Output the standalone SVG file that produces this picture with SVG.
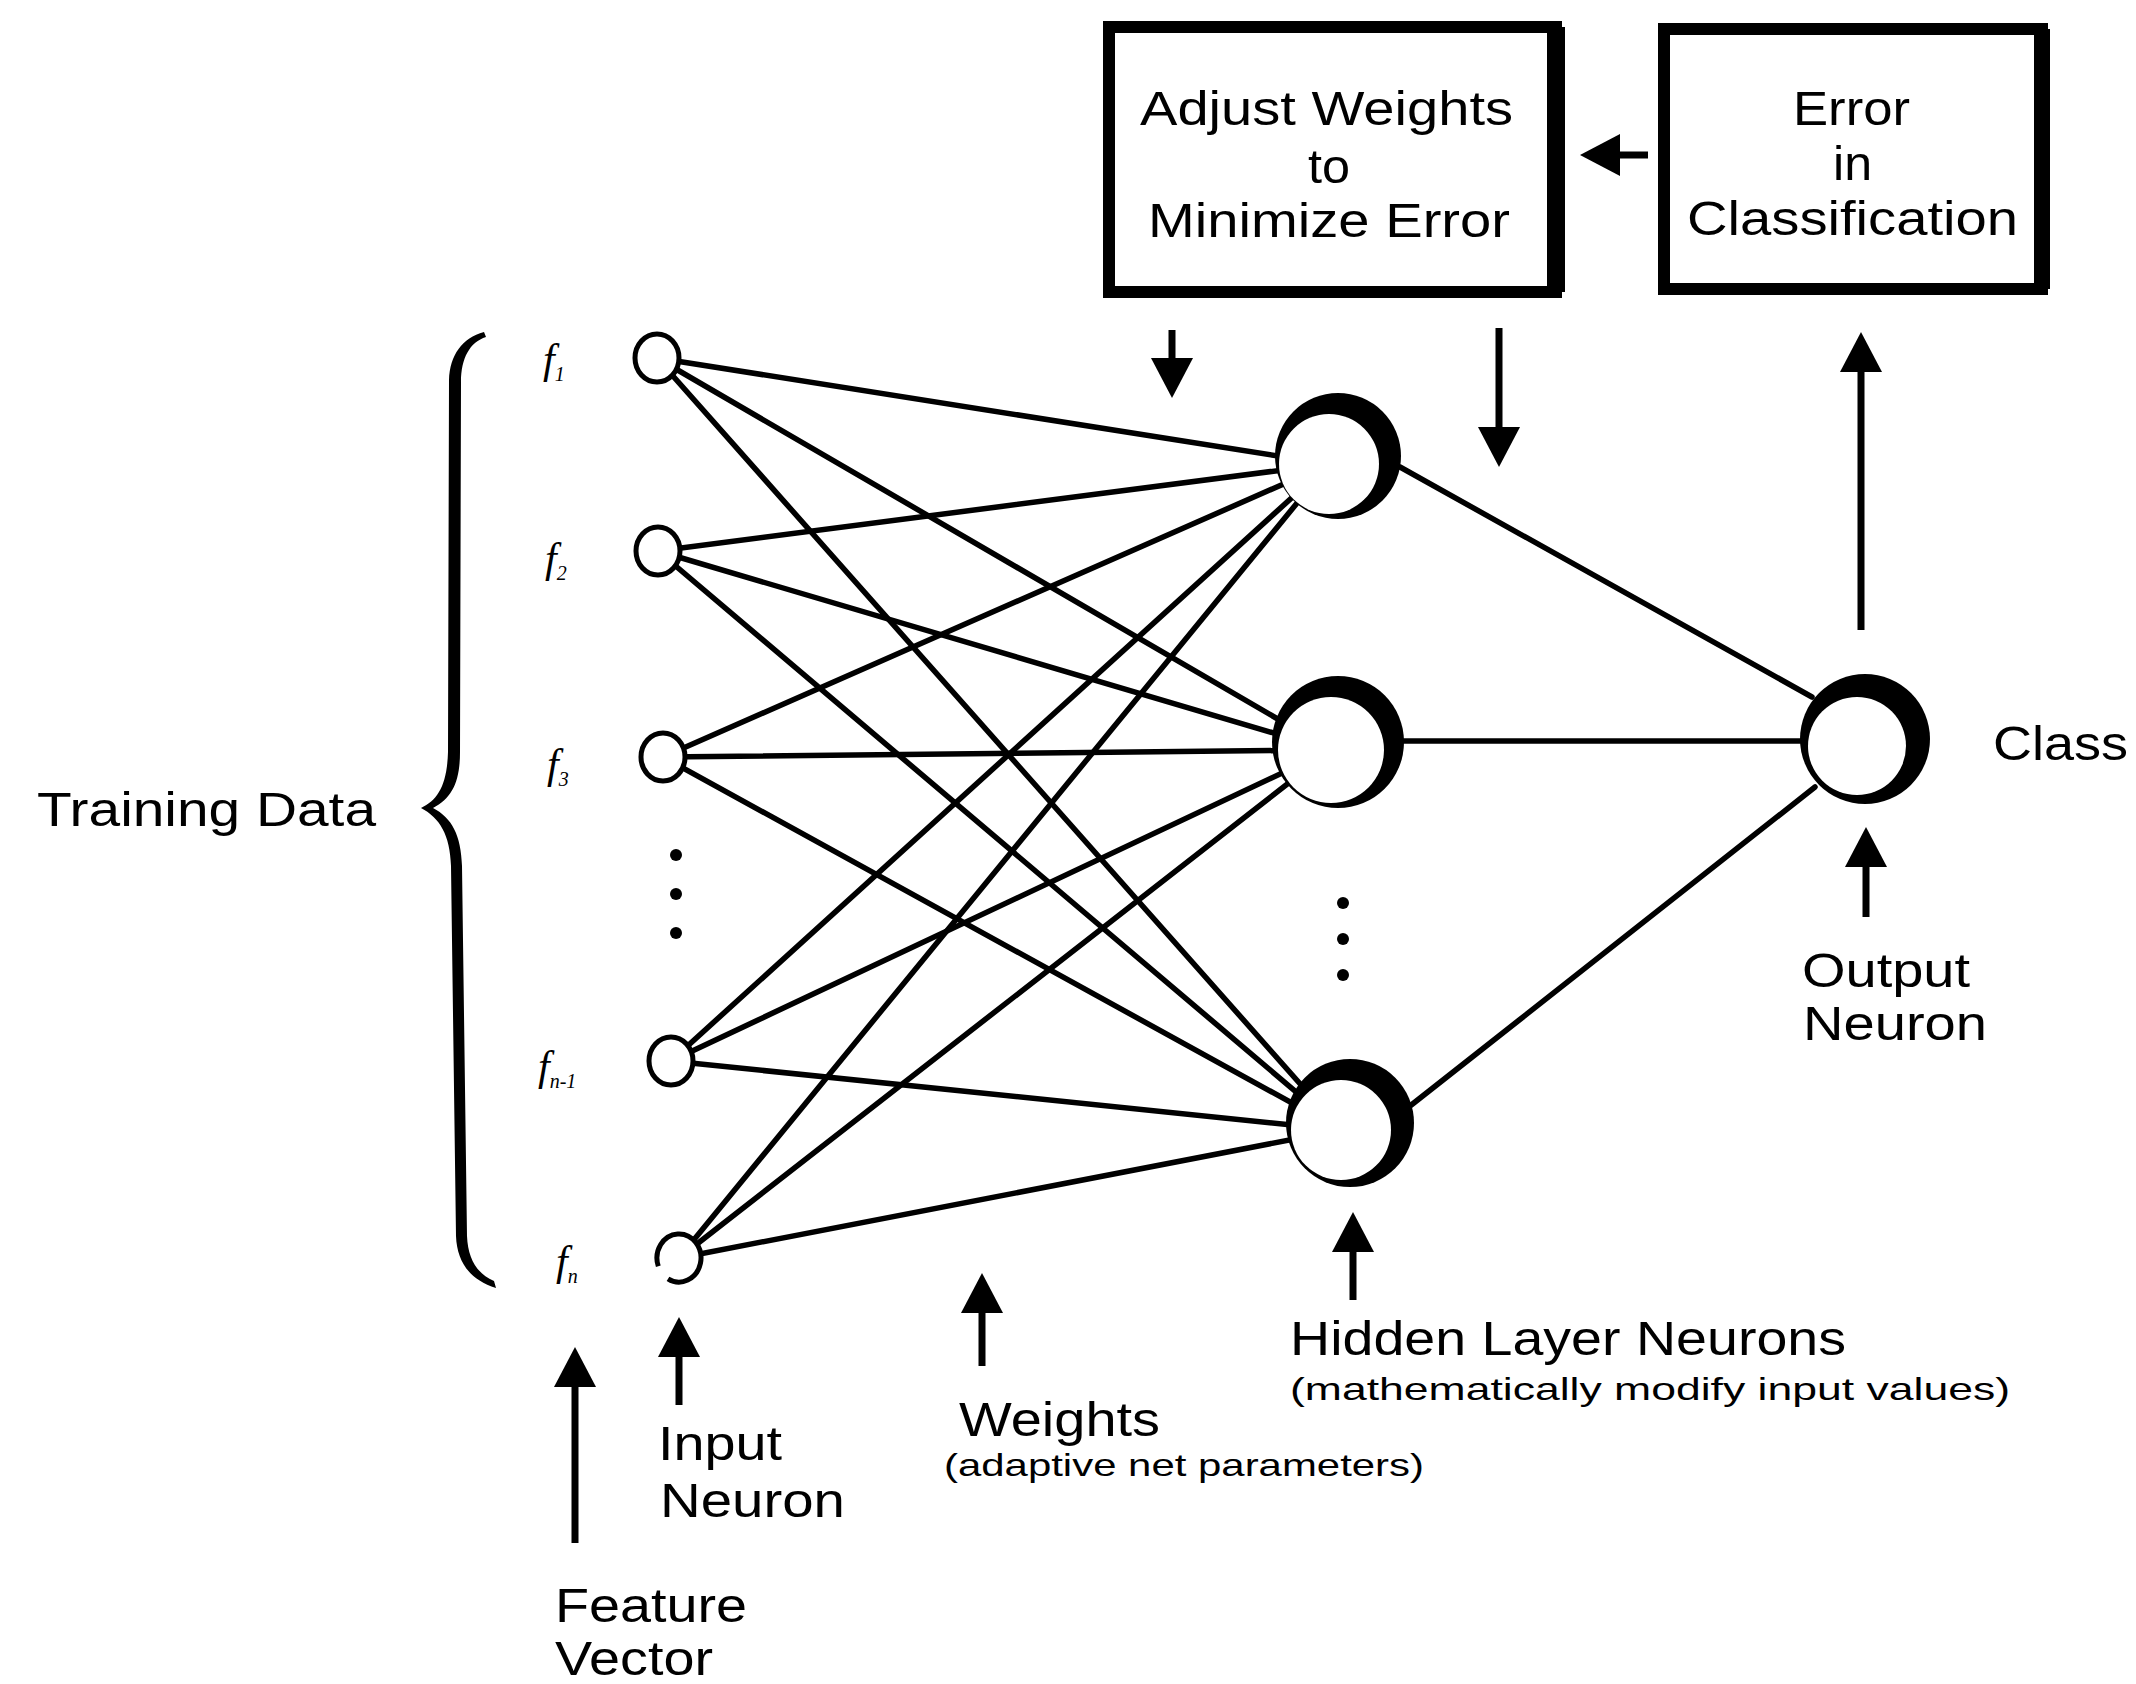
<svg xmlns="http://www.w3.org/2000/svg" width="2136" height="1684" viewBox="0 0 2136 1684">
  <defs>
    <style>
      .t { font-family: "Liberation Sans", Arial, sans-serif; font-size: 48px; fill: #000; }
      .s { font-size: 32px; }
      .f { font-family: "Liberation Serif", "Times New Roman", serif; font-style: italic; font-size: 42px; fill: #000; }
      .sub { font-size: 20px; }
      .w { stroke: #000; stroke-width: 5.5; fill: none; stroke-linecap: round; }
      .arr { stroke: #000; stroke-width: 7; fill: none; marker-end: url(#head); }
      .box { fill: #fff; stroke: #000; stroke-width: 12; }
      .ring { fill: #000; }
      .core { fill: #fff; }
      .in { fill: #fff; stroke: #000; stroke-width: 5; }
      .dot { fill: #000; }
    </style>
    <marker id="head" markerUnits="userSpaceOnUse" markerWidth="44" markerHeight="46" viewBox="0 -23 44 46" refX="30" refY="0" orient="auto">
      <path d="M0,-21 L40,0 L0,21 Z" fill="#000"/>
    </marker>
  </defs>

  <rect width="2136" height="1684" fill="#fff"/>

  <!-- weighted connections -->
  <g id="connectors">
    <!-- input layer to hidden layer -->
    <line class="w" x1="657" y1="358" x2="1329" y2="464"/>
    <line class="w" x1="657" y1="358" x2="1331" y2="750"/>
    <line class="w" x1="657" y1="358" x2="1341" y2="1130"/>
    <line class="w" x1="658" y1="551" x2="1329" y2="464"/>
    <line class="w" x1="658" y1="551" x2="1331" y2="750"/>
    <line class="w" x1="658" y1="551" x2="1341" y2="1130"/>
    <line class="w" x1="663" y1="757" x2="1329" y2="464"/>
    <line class="w" x1="663" y1="757" x2="1331" y2="750"/>
    <line class="w" x1="663" y1="757" x2="1341" y2="1130"/>
    <line class="w" x1="671" y1="1061" x2="1329" y2="464"/>
    <line class="w" x1="671" y1="1061" x2="1331" y2="750"/>
    <line class="w" x1="671" y1="1061" x2="1341" y2="1130"/>
    <line class="w" x1="679" y1="1258" x2="1329" y2="464"/>
    <line class="w" x1="679" y1="1258" x2="1331" y2="750"/>
    <line class="w" x1="679" y1="1258" x2="1341" y2="1130"/>
    <!-- hidden layer to output -->
    <line class="w" x1="1400" y1="467" x2="1812" y2="697"/>
    <line class="w" x1="1400" y1="741" x2="1812" y2="741"/>
    <line class="w" x1="1410" y1="1106" x2="1815" y2="787"/>

    <!-- feedback loop arrows -->
    <line class="arr" x1="1648" y1="155" x2="1590" y2="155"/>
    <line class="arr" x1="1172" y1="330" x2="1172" y2="388"/>
    <line class="arr" x1="1499" y1="328" x2="1499" y2="457"/>
    <line class="arr" x1="1861" y1="630" x2="1861" y2="342"/>

    <!-- pointer arrows for labels -->
    <line class="arr" x1="1866" y1="917" x2="1866" y2="837"/>
    <line class="arr" x1="1353" y1="1300" x2="1353" y2="1222"/>
    <line class="arr" x1="982" y1="1366" x2="982" y2="1283"/>
    <line class="arr" x1="679" y1="1405" x2="679" y2="1327"/>
    <line class="arr" x1="575" y1="1543" x2="575" y2="1357"/>
  </g>

  <!-- control boxes -->
  <g id="adjust-weights">
    <rect class="box" x="1109" y="27" width="447" height="265"/>
    <line x1="1556" y1="27" x2="1556" y2="292" stroke="#000" stroke-width="18"/>
    <text class="t" x="1140" y="125" textLength="373" lengthAdjust="spacingAndGlyphs">Adjust Weights</text>
    <text class="t" x="1308" y="183" textLength="42" lengthAdjust="spacingAndGlyphs">to</text>
    <text class="t" x="1148" y="237" textLength="362" lengthAdjust="spacingAndGlyphs">Minimize Error</text>
  </g>

  <g id="error-classification">
    <rect class="box" x="1664" y="29" width="378" height="260"/>
    <line x1="2042" y1="29" x2="2042" y2="289" stroke="#000" stroke-width="16"/>
    <text class="t" x="1793" y="125" textLength="117" lengthAdjust="spacingAndGlyphs">Error</text>
    <text class="t" x="1833" y="180" textLength="39" lengthAdjust="spacingAndGlyphs">in</text>
    <text class="t" x="1687" y="235" textLength="331" lengthAdjust="spacingAndGlyphs">Classification</text>
  </g>

  <!-- input neurons -->
  <g id="input-1"><ellipse class="in" cx="657" cy="358" rx="22" ry="24"/></g>
  <g id="input-2"><ellipse class="in" cx="658" cy="551" rx="22" ry="24"/></g>
  <g id="input-3"><ellipse class="in" cx="663" cy="757" rx="22" ry="24"/></g>
  <g id="input-4"><ellipse class="in" cx="671" cy="1061" rx="22" ry="24"/></g>
  <g id="input-5">
    <ellipse cx="679" cy="1258" rx="22" ry="24" fill="#fff"/>
    <path d="M658.3,1266.2 A22,24 0 1 1 668,1278.8" fill="none" stroke="#000" stroke-width="5"/>
  </g>

  <!-- hidden layer neurons -->
  <g id="hidden-1">
    <circle class="ring" cx="1338" cy="456" r="63"/>
    <circle class="core" cx="1329" cy="464" r="50"/>
  </g>
  <g id="hidden-2">
    <circle class="ring" cx="1338" cy="742" r="66"/>
    <circle class="core" cx="1331" cy="750" r="53"/>
  </g>
  <g id="hidden-3">
    <circle class="ring" cx="1350" cy="1123" r="64"/>
    <circle class="core" cx="1341" cy="1130" r="50"/>
  </g>

  <!-- output neuron -->
  <g id="output">
    <circle class="ring" cx="1865" cy="739" r="65"/>
    <circle class="core" cx="1857" cy="746" r="49"/>
  </g>

  <!-- ellipses between neurons -->
  <g id="input-ellipsis">
    <circle class="dot" cx="676" cy="855" r="6"/>
    <circle class="dot" cx="676" cy="894" r="6"/>
    <circle class="dot" cx="676" cy="933" r="6"/>
  </g>
  <g id="hidden-ellipsis">
    <circle class="dot" cx="1343" cy="903" r="6"/>
    <circle class="dot" cx="1343" cy="939" r="6"/>
    <circle class="dot" cx="1343" cy="975" r="6"/>
  </g>

  <!-- feature labels -->
  <g id="features">
    <text class="f" x="543" y="373">f<tspan class="sub" dy="8">1</tspan></text>
    <text class="f" x="545" y="572">f<tspan class="sub" dy="8">2</tspan></text>
    <text class="f" x="547" y="778">f<tspan class="sub" dy="8">3</tspan></text>
    <text class="f" x="538" y="1080">f<tspan class="sub" dy="8">n-1</tspan></text>
    <text class="f" x="556" y="1275">f<tspan class="sub" dy="8">n</tspan></text>
  </g>

  <!-- training data brace -->
  <g id="training-data">
    <path d="M484,332 C462,338 450,355 449,380 L448,752 C447,785 438,800 421,808 C440,818 450,835 451,866 L456,1236 C457,1262 470,1280 496,1288 L494,1281 C476,1273 468,1258 467,1236 L462,866 C461,835 452,818 433,808 C452,798 460,782 460,752 L461,382 C461,358 470,342 486,337 Z" fill="#000"/>
    <text class="t" x="37" y="826" textLength="339" lengthAdjust="spacingAndGlyphs">Training Data</text>
  </g>

  <!-- labels -->
  <g id="labels">
    <text class="t" x="1993" y="760" textLength="135" lengthAdjust="spacingAndGlyphs">Class</text>
    <text class="t" x="1802" y="987" textLength="168" lengthAdjust="spacingAndGlyphs">Output</text>
    <text class="t" x="1803" y="1040" textLength="184" lengthAdjust="spacingAndGlyphs">Neuron</text>
    <text class="t" x="1290" y="1355" textLength="556" lengthAdjust="spacingAndGlyphs">Hidden Layer Neurons</text>
    <text class="t s" x="1290" y="1400" textLength="720" lengthAdjust="spacingAndGlyphs">(mathematically modify input values)</text>
    <text class="t" x="959" y="1436" textLength="201" lengthAdjust="spacingAndGlyphs">Weights</text>
    <text class="t s" x="944" y="1476" textLength="480" lengthAdjust="spacingAndGlyphs">(adaptive net parameters)</text>
    <text class="t" x="658" y="1460" textLength="124" lengthAdjust="spacingAndGlyphs">Input</text>
    <text class="t" x="660" y="1517" textLength="185" lengthAdjust="spacingAndGlyphs">Neuron</text>
    <text class="t" x="555" y="1622" textLength="192" lengthAdjust="spacingAndGlyphs">Feature</text>
    <text class="t" x="555" y="1675" textLength="158" lengthAdjust="spacingAndGlyphs">Vector</text>
  </g>
</svg>
